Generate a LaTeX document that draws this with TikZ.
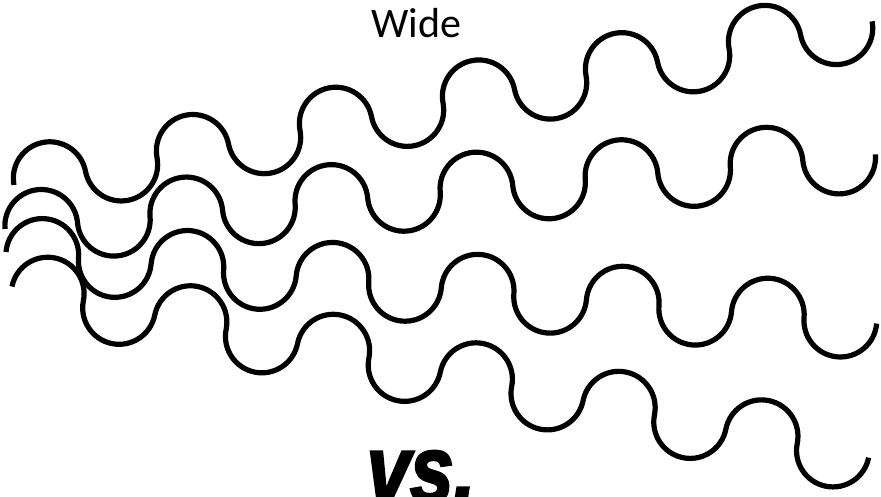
\documentclass[tikz,border=0pt]{standalone}
\usepackage{fontspec}
\setmainfont{Carlito}
\newfontfamily\vsfont{Liberation Sans}[BoldItalicFeatures={FakeBold=3}]
\usepackage{tikz}
\definecolor{ink}{HTML}{000000}
\newcommand{\waverad}{36.4pt}

\begin{document}
\begin{tikzpicture}[x=1pt, y=1pt,
  wave/.style={draw=ink, line width=5.2pt},
  lbl/.style={font=\fontsize{42}{42}\selectfont, inner sep=0pt, anchor=base},
  big/.style={font=\vsfont\bfseries\itshape\fontsize{95}{95}\selectfont, inner sep=0pt, anchor=base}
]
\useasboundingbox (0,0) rectangle (881,-496);
\clip (0,0) rectangle (881,-496);
% four waves, each turned a little
\draw[wave, rotate around={10.8:(14,-185)}] (14,-185)
  \foreach \k in {1,...,6} {arc[start angle=180, end angle=0, radius=\waverad] arc[start angle=180, end angle=360, radius=\waverad]};
\draw[wave, rotate around={4.9:(5,-229)}] (5,-229)
  \foreach \k in {1,...,6} {arc[start angle=180, end angle=0, radius=\waverad] arc[start angle=180, end angle=360, radius=\waverad]};
\draw[wave, rotate around={-4.7:(6,-252)}] (6,-252)
  \foreach \k in {1,...,6} {arc[start angle=180, end angle=0, radius=\waverad] arc[start angle=180, end angle=360, radius=\waverad]};
\draw[wave, rotate around={-11.3:(12,-286.5)}] (12,-286.5)
  \foreach \k in {1,...,6} {arc[start angle=180, end angle=0, radius=\waverad] arc[start angle=180, end angle=360, radius=\waverad]};
\node[lbl] (wide) at (416,-37) {Wide};
\node[big] (vs) at (421,-502) {\scalebox{0.82}[1]{vs.}};
\end{tikzpicture}
\end{document}
